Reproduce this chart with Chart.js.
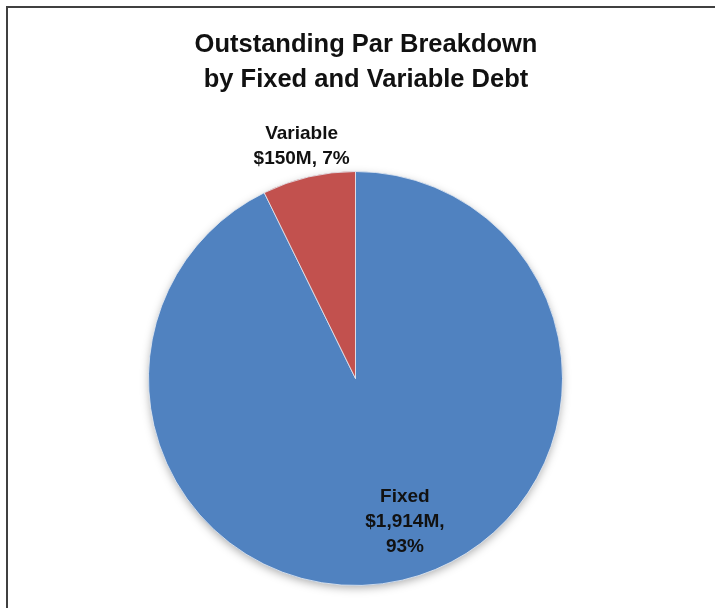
<!DOCTYPE html>
<html>
<head>
<meta charset="utf-8">
<script src="https://cdn.jsdelivr.net/npm/chart.js@4/dist/chart.umd.min.js"></script>
<style>
  html, body { margin: 0; padding: 0; background: #ffffff; }
  #wrap { position: relative; width: 715px; height: 608px; }
</style>
</head>
<body>
<div id="wrap"><canvas id="c" width="715" height="608"></canvas></div>
<script>
// ---- data ----
const categories = ['Fixed', 'Variable'];
const parValues = [1914, 150];            // $M
const labelWrap = [true, false];          // break value/percent onto separate lines
const titleLines = ['Outstanding Par Breakdown', 'by Fixed and Variable Debt'];

// ---- styles ----
const sliceColors = [
  ['#5889ca', '#5082c0', '#3f6ca5'],
  ['#cb625f', '#c2514e', '#a3413e']
];
const labelPlacement = [
  { rf: 0.73, dAngle: -6 * Math.PI / 180 },
  { rf: 1.15, dAngle: 0 }
];
const FONT = '"Liberation Sans", Arial, sans-serif';

function sliceGradient(ctx) {
  const chart = ctx.chart;
  const meta = chart.getDatasetMeta(0);
  const arc = meta.data[ctx.dataIndex];
  const c = sliceColors[ctx.dataIndex];
  if (!arc || !arc.outerRadius) return c[1];
  const g = chart.ctx.createRadialGradient(arc.x, arc.y, 0, arc.x, arc.y, arc.outerRadius);
  g.addColorStop(0, c[0]);
  g.addColorStop(0.85, c[1]);
  g.addColorStop(1, c[2]);
  return g;
}

const decorPlugin = {
  id: 'decor',
  beforeDatasetsDraw(chart) {
    const arc = chart.getDatasetMeta(0).data[0];
    if (!arc) return;
    const ctx = chart.ctx;
    ctx.save();
    ctx.shadowColor = 'rgba(0,0,0,0.35)';
    ctx.shadowBlur = 10;
    ctx.shadowOffsetY = 3;
    ctx.fillStyle = '#4f81bd';
    ctx.beginPath();
    ctx.arc(arc.x, arc.y, arc.outerRadius - 1, 0, Math.PI * 2);
    ctx.fill();
    ctx.restore();
  },
  afterDraw(chart) {
    const ctx = chart.ctx;
    ctx.save();
    // frame
    ctx.strokeStyle = '#404040';
    ctx.lineWidth = 2;
    ctx.beginPath();
    ctx.moveTo(7, 608);
    ctx.lineTo(7, 7);
    ctx.lineTo(715, 7);
    ctx.stroke();
    // title
    ctx.fillStyle = '#111111';
    ctx.textAlign = 'center';
    ctx.textBaseline = 'middle';
    ctx.font = 'bold 25.5px ' + FONT;
    titleLines.forEach((t, i) => ctx.fillText(t, 366, 45 + i * 35));
    // data labels
    const total = parValues.reduce((a, b) => a + b, 0);
    const meta = chart.getDatasetMeta(0);
    ctx.font = 'bold 19px ' + FONT;
    meta.data.forEach((arc, i) => {
      const pct = Math.round(parValues[i] / total * 100) + '%';
      const val = '$' + parValues[i].toLocaleString('en-US') + 'M,';
      const lines = labelWrap[i] ? [categories[i], val, pct] : [categories[i], val + ' ' + pct];
      const p = labelPlacement[i];
      const mid = (arc.startAngle + arc.endAngle) / 2 + p.dAngle;
      const r = arc.outerRadius * p.rf;
      const x = arc.x + Math.cos(mid) * r;
      const y = arc.y + Math.sin(mid) * r;
      const lh = 25;
      lines.forEach((l, k) => {
        ctx.fillText(l, x, y + (k - (lines.length - 1) / 2) * lh);
      });
    });
    ctx.restore();
  }
};

new Chart(document.getElementById('c'), {
  type: 'pie',
  data: {
    labels: categories,
    datasets: [{
      data: parValues,
      backgroundColor: sliceGradient,
      borderColor: 'rgba(230,236,245,0.8)',
      borderWidth: 1
    }]
  },
  options: {
    responsive: false,
    animation: false,
    layout: { padding: { top: 171, bottom: 22, left: 0, right: 4 } },
    plugins: {
      legend: { display: false },
      title: { display: false },
      tooltip: { enabled: false }
    }
  },
  plugins: [decorPlugin]
});
</script>
</body>
</html>
